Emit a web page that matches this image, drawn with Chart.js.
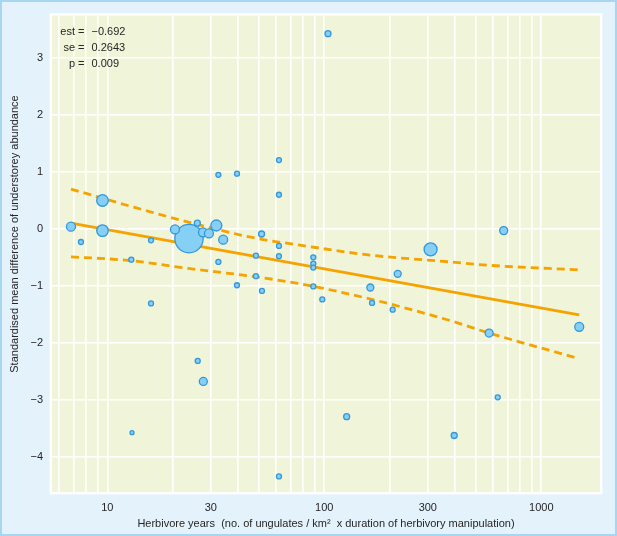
<!DOCTYPE html>
<html><head><meta charset="utf-8">
<script src="https://cdn.jsdelivr.net/npm/chart.js@4/dist/chart.umd.min.js"></script>
<style>html,body{margin:0;padding:0;background:#e4f2fc;overflow:hidden}#wrap{width:617px;height:536px}</style>
</head><body><div id="wrap"><canvas id="c" width="617" height="536"></canvas></div>
<script>
// ---- data ----
const herbYears = [6.8, 7.56, 9.5, 9.5, 15.9, 12.9, 15.9, 23.8, 20.5, 26.0, 27.6, 29.4, 31.8, 34.2, 32.5, 39.6, 32.5, 39.6, 51.4, 48.4, 48.4, 51.6, 61.8, 61.8, 61.8, 61.8, 89, 89, 89, 89, 97.9, 163, 166, 206.6, 218, 309, 671, 575, 1496, 630, 397, 126.8, 61.8, 26.1, 27.7, 13.0, 104];
const smd = [0.04, -0.23, 0.50, -0.03, -0.20, -0.54, -1.31, -0.17, -0.01, 0.10, -0.06, -0.08, 0.06, -0.19, 0.95, 0.97, -0.58, -0.99, -0.09, -0.47, -0.83, -1.09, 1.21, 0.60, -0.30, -0.48, -0.50, -0.61, -0.68, -1.01, -1.24, -1.03, -1.30, -1.42, -0.79, -0.36, -0.03, -1.83, -1.72, -2.96, -3.63, -3.30, -4.35, -2.32, -2.68, -3.58, 3.43];
const weights = [5, 3, 6.3, 6.3, 3, 3, 3, 14.7, 5, 3.5, 5, 5, 6, 5, 3, 3, 3, 3, 3.5, 3, 3, 3, 3, 3, 3, 3, 3, 3, 3, 3, 3, 4, 3, 3, 4, 7, 4.5, 4.5, 5, 3, 3.5, 3.5, 3, 3, 4.5, 2.5, 3.5];
const fitX = [6.8, 1496];
const fitY = [0.10, -1.51];
const bandX = [6.8, 13, 23.6, 47.9, 78.7, 162, 379, 575, 1496];
const bandUpper = [0.70, 0.39, 0.12, -0.16, -0.29, -0.46, -0.58, -0.64, -0.72];
const bandLower = [-0.49, -0.56, -0.695, -0.84, -0.97, -1.23, -1.61, -1.83, -2.28];
const xTickLabels = [10, 30, 100, 300, 1000];
const xGridValues = [6, 7, 8, 9, 10, 20, 30, 40, 50, 60, 70, 80, 90, 100, 200, 300, 400, 500, 600, 700, 800, 900, 1000];
const yTicks = [-4, -3, -2, -1, 0, 1, 2, 3];
const statLabels = ['est =', 'se =', 'p ='];
const statValues = ['\u22120.692', '0.2643', '0.009'];
const xTitle = 'Herbivore years  (no. of ungulates / km\u00B2  x duration of herbivory manipulation)';
const yTitle = 'Standardised mean difference of understorey abundance';

// ---- styling ----
const FONT = "'Liberation Sans', Arial, sans-serif";
const TEXT = '#262626';
const ORANGE = '#f5a300';

const pts = herbYears.map((x, i) => ({x, y: smd[i]}));
const fitPts = fitX.map((x, i) => ({x, y: fitY[i]}));
const upPts = bandX.map((x, i) => ({x, y: bandUpper[i]}));
const loPts = bandX.map((x, i) => ({x, y: bandLower[i]}));

const deco = {
  id: 'deco',
  beforeDraw(chart) {
    const ctx = chart.ctx, a = chart.chartArea;
    ctx.save();
    ctx.fillStyle = '#e4f2fc';
    ctx.fillRect(0, 0, chart.width, chart.height);
    ctx.strokeStyle = '#a6d6f2';
    ctx.lineWidth = 2;
    ctx.strokeRect(1, 1, chart.width - 2, chart.height - 2);
    ctx.fillStyle = '#f0f4d8';
    ctx.fillRect(a.left, a.top, a.right - a.left, a.bottom - a.top);
    ctx.strokeStyle = '#ffffff';
    ctx.lineWidth = 2.4;
    ctx.strokeRect(a.left - 1.2, a.top - 1.2, a.right - a.left + 2.4, a.bottom - a.top + 2.4);
    ctx.restore();
  },
  afterDraw(chart) {
    const ctx = chart.ctx;
    ctx.save();
    ctx.fillStyle = TEXT;
    ctx.font = '11px ' + FONT;
    ctx.textBaseline = 'middle';
    statLabels.forEach((t, i) => {
      ctx.textAlign = 'right';
      ctx.fillText(t, 84.5, 32 + i * 16);
      ctx.textAlign = 'left';
      ctx.fillText(statValues[i], 91.5, 32 + i * 16);
    });
    ctx.textAlign = 'center';
    ctx.fillText(xTitle, 326, 524);
    ctx.translate(15, 234);
    ctx.rotate(-Math.PI / 2);
    ctx.fillText(yTitle, 0, 0);
    ctx.restore();
  }
};

new Chart(document.getElementById('c'), {
  type: 'scatter',
  data: {
    datasets: [
      {data: pts, order: 0, pointRadius: ctx => weights[ctx.dataIndex] - 0.5,
       backgroundColor: '#86cff5', borderColor: '#3497da', borderWidth: 1.3, pointHoverRadius: ctx => weights[ctx.dataIndex] - 0.5},
      {type: 'line', data: fitPts, order: 1, borderColor: ORANGE, borderWidth: 2.8, pointRadius: 0, fill: false},
      {type: 'line', data: upPts, order: 1, borderColor: ORANGE, borderWidth: 2.8, borderDash: [8, 5], pointRadius: 0, fill: false, tension: 0.3, cubicInterpolationMode: 'monotone'},
      {type: 'line', data: loPts, order: 1, borderColor: ORANGE, borderWidth: 2.8, borderDash: [8, 5], pointRadius: 0, fill: false, tension: 0.3, cubicInterpolationMode: 'monotone'}
    ]
  },
  options: {
    responsive: false, animation: false, devicePixelRatio: 1,
    layout: {padding: {left: 0, top: 14, right: 17, bottom: 0}},
    plugins: {legend: {display: false}, tooltip: {enabled: false}},
    scales: {
      x: {
        type: 'logarithmic', min: 5.56, max: 1865,
        afterBuildTicks: s => { s.ticks = xGridValues.map(v => ({value: v})); },
        afterFit: s => { s.height = 44; },
        border: {display: false},
        grid: {color: '#ffffff', lineWidth: 1.6, drawTicks: false},
        ticks: {autoSkip: false, maxRotation: 0, padding: 9, color: TEXT, font: {family: FONT, size: 11},
          callback: v => xTickLabels.includes(v) ? String(v) : ''}
      },
      y: {
        type: 'linear', min: -4.623, max: 3.748,
        afterBuildTicks: s => { s.ticks = yTicks.map(v => ({value: v})); },
        afterFit: s => { s.width = 52; },
        border: {display: false},
        grid: {color: '#ffffff', lineWidth: 1.6, drawTicks: false},
        ticks: {padding: 9, color: TEXT, font: {family: FONT, size: 11},
          callback: v => v < 0 ? '\u2212' + Math.abs(v) : String(v)}
      }
    }
  },
  plugins: [deco]
});
</script></body></html>
